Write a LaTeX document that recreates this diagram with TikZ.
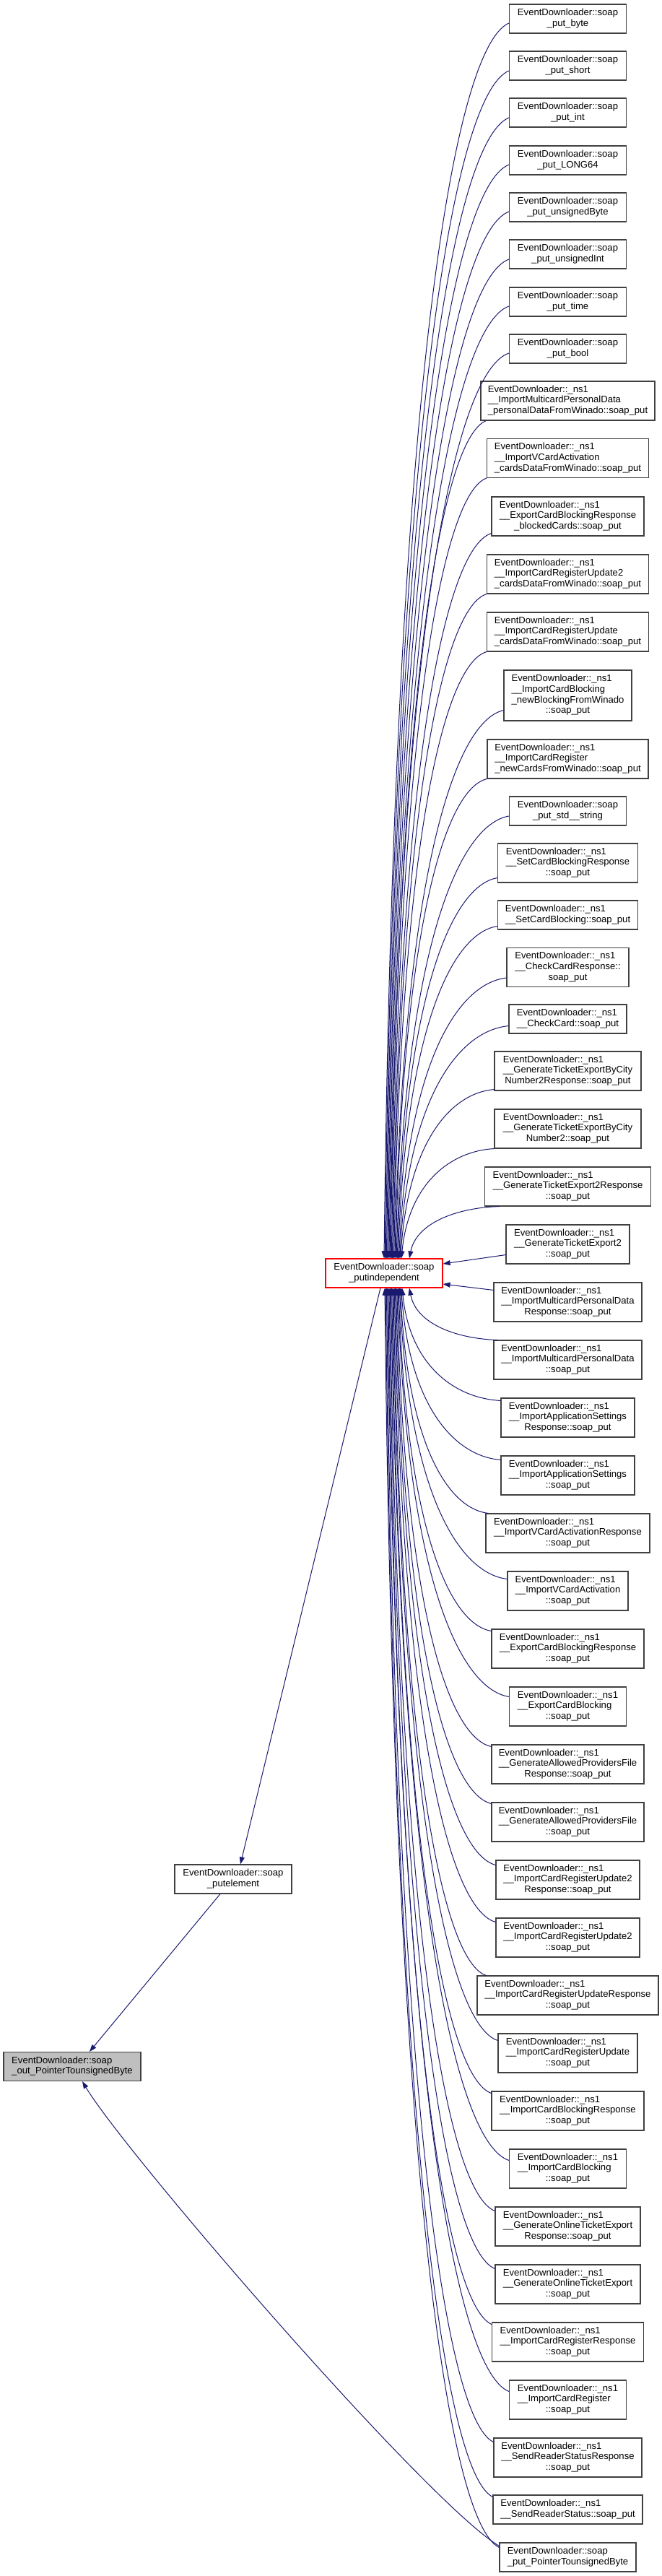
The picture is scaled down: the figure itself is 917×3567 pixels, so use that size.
\documentclass[tikz,border=0pt]{standalone}
\usepackage{fontspec}
\setmainfont{Liberation Sans}
\usetikzlibrary{arrows.meta,calc}
\definecolor{edgecol}{HTML}{191970}
\definecolor{boxline}{HTML}{404040}
\definecolor{focusfill}{HTML}{BFBFBF}
\tikzset{
 box/.style={draw=boxline, line width=1.1pt, fill=white, inner sep=0pt, align=center,
   font=\fontsize{13.1}{14.7}\selectfont, text=black},
 edge/.style={draw=edgecol, line width=1pt, -{Triangle[length=10pt,width=7pt]}},
}
\newcommand\lbl[2]{\begin{tabular}{@{}l@{}}#1\\\multicolumn{1}{@{}c@{}}{#2}\end{tabular}}
\newcommand\nsA{EventDownloader::\_ns1}
\newcommand\nd[5]{\node[box,minimum width=#3pt,minimum height=#4pt] (#1) at (786.5,-#2) {#5};}
\newcommand\cE[2]{\draw[edge] let \p1=(#1), \p2=(#2), \n1={\x1-\x2}, \n2={\y1-\y2} in
  (\p1) .. controls +(-0.45*\n1,-0.02*\n2) and +(0.08*\n1,0.7*\n2) .. (\p2);}
\begin{document}
\begin{tikzpicture}[x=1pt,y=1pt]
\fill[white] (0,0) rectangle (917,-3567);
\useasboundingbox (0,0) rectangle (917,-3567);
% right column
\nd{N1}{26}{162}{40}{\lbl{EventDownloader::soap}{\_put\_byte}}
\nd{N2}{91}{162}{40}{\lbl{EventDownloader::soap}{\_put\_short}}
\nd{N3}{156}{162}{40}{\lbl{EventDownloader::soap}{\_put\_int}}
\nd{N4}{222}{162}{40}{\lbl{EventDownloader::soap}{\_put\_LONG64}}
\nd{N5}{287}{162}{40}{\lbl{EventDownloader::soap}{\_put\_unsignedByte}}
\nd{N6}{352}{162}{40}{\lbl{EventDownloader::soap}{\_put\_unsignedInt}}
\nd{N7}{418}{162}{40}{\lbl{EventDownloader::soap}{\_put\_time}}
\nd{N8}{483}{162}{40}{\lbl{EventDownloader::soap}{\_put\_bool}}
\nd{N9}{555}{241}{54}{\lbl{\nsA\\\_\_ImportMulticardPersonalData}{\_personalDataFromWinado::soap\_put}}
\nd{N10}{634.5}{224}{54}{\lbl{\nsA\\\_\_ImportVCardActivation}{\_cardsDataFromWinado::soap\_put}}
\nd{N11}{715}{211}{54}{\lbl{\nsA\\\_\_ExportCardBlockingResponse}{\_blockedCards::soap\_put}}
\nd{N12}{795}{224}{54}{\lbl{\nsA\\\_\_ImportCardRegisterUpdate2}{\_cardsDataFromWinado::soap\_put}}
\nd{N13}{875}{224}{54}{\lbl{\nsA\\\_\_ImportCardRegisterUpdate}{\_cardsDataFromWinado::soap\_put}}
\nd{N14}{963}{177}{70}{\lbl{\nsA\\\_\_ImportCardBlocking\\\_newBlockingFromWinado}{::soap\_put}}
\nd{N15}{1051}{223}{54}{\lbl{\nsA\\\_\_ImportCardRegister}{\_newCardsFromWinado::soap\_put}}
\nd{N16}{1123}{162}{40}{\lbl{EventDownloader::soap}{\_put\_std\_\_string}}
\nd{N17}{1195}{194}{54}{\lbl{\nsA\\\_\_SetCardBlockingResponse}{::soap\_put}}
\nd{N18}{1267}{194}{40}{\lbl{\nsA}{\_\_SetCardBlocking::soap\_put}}
\nd{N19}{1339.5}{169}{54}{\lbl{\nsA\\\_\_CheckCardResponse::}{soap\_put}}
\nd{N20}{1411}{163}{40}{\lbl{\nsA}{\_\_CheckCard::soap\_put}}
\nd{N21}{1483}{203}{54}{\lbl{\nsA\\\_\_GenerateTicketExportByCity}{Number2Response::soap\_put}}
\nd{N22}{1563}{203}{54}{\lbl{\nsA\\\_\_GenerateTicketExportByCity}{Number2::soap\_put}}
\nd{N23}{1643}{230}{54}{\lbl{\nsA\\\_\_GenerateTicketExport2Response}{::soap\_put}}
\nd{N24}{1723}{171}{54}{\lbl{\nsA\\\_\_GenerateTicketExport2}{::soap\_put}}
\nd{N25}{1803}{205}{54}{\lbl{\nsA\\\_\_ImportMulticardPersonalData}{Response::soap\_put}}
\nd{N26}{1883}{205}{54}{\lbl{\nsA\\\_\_ImportMulticardPersonalData}{::soap\_put}}
\nd{N27}{1963}{185}{54}{\lbl{\nsA\\\_\_ImportApplicationSettings}{Response::soap\_put}}
\nd{N28}{2043}{185}{54}{\lbl{\nsA\\\_\_ImportApplicationSettings}{::soap\_put}}
\nd{N29}{2123}{227}{54}{\lbl{\nsA\\\_\_ImportVCardActivationResponse}{::soap\_put}}
\nd{N30}{2203}{167}{54}{\lbl{\nsA\\\_\_ImportVCardActivation}{::soap\_put}}
\nd{N31}{2283}{211}{54}{\lbl{\nsA\\\_\_ExportCardBlockingResponse}{::soap\_put}}
\nd{N32}{2363}{162}{54}{\lbl{\nsA\\\_\_ExportCardBlocking}{::soap\_put}}
\nd{N33}{2443}{211}{54}{\lbl{\nsA\\\_\_GenerateAllowedProvidersFile}{Response::soap\_put}}
\nd{N34}{2523}{211}{54}{\lbl{\nsA\\\_\_GenerateAllowedProvidersFile}{::soap\_put}}
\nd{N35}{2603}{199}{54}{\lbl{\nsA\\\_\_ImportCardRegisterUpdate2}{Response::soap\_put}}
\nd{N36}{2683}{199}{54}{\lbl{\nsA\\\_\_ImportCardRegisterUpdate2}{::soap\_put}}
\nd{N37}{2763}{251}{54}{\lbl{\nsA\\\_\_ImportCardRegisterUpdateResponse}{::soap\_put}}
\nd{N38}{2843}{193}{54}{\lbl{\nsA\\\_\_ImportCardRegisterUpdate}{::soap\_put}}
\nd{N39}{2923}{211}{54}{\lbl{\nsA\\\_\_ImportCardBlockingResponse}{::soap\_put}}
\nd{N40}{3003}{162}{54}{\lbl{\nsA\\\_\_ImportCardBlocking}{::soap\_put}}
\nd{N41}{3083}{201}{54}{\lbl{\nsA\\\_\_GenerateOnlineTicketExport}{Response::soap\_put}}
\nd{N42}{3163}{201}{54}{\lbl{\nsA\\\_\_GenerateOnlineTicketExport}{::soap\_put}}
\nd{N43}{3243}{210}{54}{\lbl{\nsA\\\_\_ImportCardRegisterResponse}{::soap\_put}}
\nd{N44}{3323}{162}{54}{\lbl{\nsA\\\_\_ImportCardRegister}{::soap\_put}}
\nd{N45}{3403}{205}{54}{\lbl{\nsA\\\_\_SendReaderStatusResponse}{::soap\_put}}
\nd{N46}{3475}{207}{40}{\lbl{\nsA}{\_\_SendReaderStatus::soap\_put}}
\nd{N47}{3541}{189}{40}{\lbl{EventDownloader::soap}{\_put\_PointerTounsignedByte}}
% left nodes
\node[box,draw=red,minimum width=162pt,minimum height=40pt] (PI) at (532,-1763) {\lbl{EventDownloader::soap}{\_putindependent}};
\node[box,minimum width=162pt,minimum height=40pt] (PE) at (323,-2602) {\lbl{EventDownloader::soap}{\_putelement}};
\node[box,fill=focusfill,minimum width=190pt,minimum height=40pt] (G) at (100,-2861.5) {\lbl{EventDownloader::soap}{\_out\_PointerTounsignedByte}};
% edges into putindependent from above
\cE{[yshift=-6pt]N1.west}{PI.north}
\cE{[yshift=-7pt]N2.west}{[xshift=1.1pt]PI.north}
\cE{[yshift=-7pt]N3.west}{[xshift=2.3pt]PI.north}
\cE{[yshift=-6pt]N4.west}{[xshift=3.4pt]PI.north}
\cE{[yshift=-6pt]N5.west}{[xshift=4.6pt]PI.north}
\cE{[yshift=-7pt]N6.west}{[xshift=5.7pt]PI.north}
\cE{[yshift=-6pt]N7.west}{[xshift=6.9pt]PI.north}
\cE{[yshift=-6pt]N8.west}{[xshift=8pt]PI.north}
\cE{[xshift=8pt]N9.south west}{[xshift=9.1pt]PI.north}
\cE{N10.south west}{[xshift=10.3pt]PI.north}
\cE{[yshift=4pt]N11.south west}{[xshift=11.4pt]PI.north}
\cE{N12.south west}{[xshift=12.6pt]PI.north}
\cE{N13.south west}{[xshift=13.7pt]PI.north}
\cE{[yshift=15pt]N14.south west}{[xshift=14.9pt]PI.north}
\cE{N15.south west}{[xshift=16pt]PI.north}
\cE{[yshift=-7pt]N16.west}{[xshift=17.1pt]PI.north}
\cE{[yshift=7pt]N17.south west}{[xshift=18.3pt]PI.north}
\cE{[yshift=5pt]N18.south west}{[xshift=19.4pt]PI.north}
\cE{[yshift=13pt]N19.south west}{[xshift=20.6pt]PI.north}
\cE{[yshift=11pt]N20.south west}{[xshift=21.7pt]PI.north}
\cE{[yshift=2pt]N21.south west}{[xshift=22.9pt]PI.north}
\cE{N22.south west}{[xshift=24pt]PI.north}
\cE{[xshift=21pt]N23.south west}{[xshift=35pt]PI.north}
% side edges
\draw[edge] ([yshift=13pt]N24.south west) -- ([yshift=13pt]PI.east);
\draw[edge] ([yshift=-11pt]N25.north west) -- ([yshift=-15pt]PI.east);
% edges into putindependent from below
\cE{[xshift=6pt]N26.north west}{[xshift=35pt]PI.south}
\cE{[yshift=-4pt]N27.north west}{[xshift=25pt]PI.south}
\cE{[yshift=-6pt]N28.north west}{[xshift=23.8pt]PI.south}
\cE{[xshift=4pt]N29.north west}{[xshift=22.6pt]PI.south}
\cE{[yshift=-11pt]N30.north west}{[xshift=21.4pt]PI.south}
\cE{[yshift=-3pt]N31.north west}{[xshift=20.2pt]PI.south}
\cE{[yshift=-14pt]N32.north west}{[xshift=19pt]PI.south}
\cE{[yshift=-3pt]N33.north west}{[xshift=17.8pt]PI.south}
\cE{[yshift=-2pt]N34.north west}{[xshift=16.6pt]PI.south}
\cE{[yshift=-7pt]N35.north west}{[xshift=15.4pt]PI.south}
\cE{[yshift=-6pt]N36.north west}{[xshift=14.2pt]PI.south}
\cE{[xshift=13pt]N37.north west}{[xshift=13pt]PI.south}
\cE{[yshift=-10pt]N38.north west}{[xshift=11.8pt]PI.south}
\cE{[yshift=-3pt]N39.north west}{[xshift=10.6pt]PI.south}
\cE{[yshift=-16pt]N40.north west}{[xshift=9.4pt]PI.south}
\cE{[yshift=-6pt]N41.north west}{[xshift=8.2pt]PI.south}
\cE{[yshift=-6pt]N42.north west}{[xshift=7pt]PI.south}
\cE{[yshift=-3pt]N43.north west}{[xshift=5.8pt]PI.south}
\cE{[yshift=-16pt]N44.north west}{[xshift=4.6pt]PI.south}
\cE{[yshift=-6pt]N45.north west}{[xshift=3.4pt]PI.south}
\cE{[yshift=-3pt]N46.north west}{[xshift=2.2pt]PI.south}
\cE{[yshift=-7pt]N47.north west}{[xshift=1pt]PI.south}
% left chain
\draw[edge] ([xshift=-5pt]PI.south) -- ([xshift=10pt]PE.north);
\draw[edge] ([xshift=-18pt]PE.south) -- ([xshift=24pt]G.north);
\draw[edge] ([yshift=-5pt]N47.north west) .. controls +(-100,60) and +(60,-100) .. ([xshift=14pt]G.south);
\end{tikzpicture}
\end{document}
